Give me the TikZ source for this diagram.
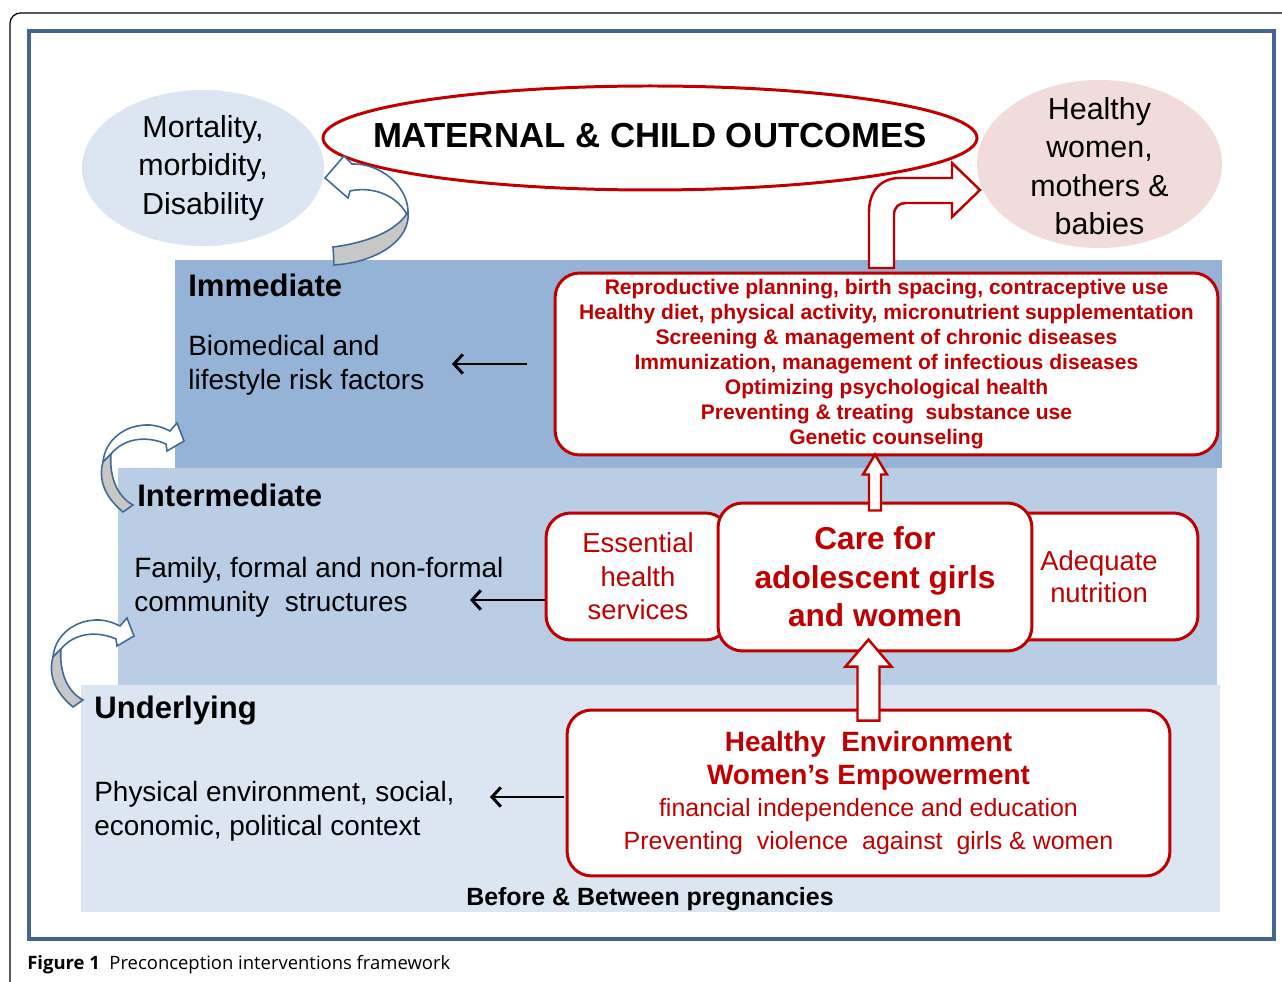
\documentclass[tikz,border=0pt]{standalone}
\usepackage{fontspec}
\setmainfont{Liberation Sans}
\newfontfamily\capfont{Open Sans}
\usetikzlibrary{arrows.meta}

\definecolor{deepred}{RGB}{192,0,0}
\definecolor{tierone}{RGB}{149,179,215}
\definecolor{tiertwo}{RGB}{185,205,229}
\definecolor{tierthree}{RGB}{220,230,242}
\definecolor{rosy}{RGB}{242,220,219}
\definecolor{frameblue}{RGB}{70,100,145}
\definecolor{twistblue}{RGB}{65,105,150}

\tikzset{
	redbox/.style = {draw=deepred, line width=1.7pt, fill=white,
		rounded corners=14pt, inner sep=0pt, text=deepred, align=center},
	blockarrow/.style = {draw=deepred, line width=1.4pt, fill=white},
	twist/.style = {draw=twistblue, line width=0.9pt, fill=white},
	twistback/.style = {draw=twistblue, line width=0.9pt, fill=black!22},
	backarrow/.style = {line width=1.7pt, -{Straight Barb[length=5pt,width=11pt]}},
	tier/.style = {anchor=west, inner sep=0pt,
		font=\fontsize{17.7}{20}\selectfont\bfseries},
	factor/.style = {anchor=west, inner sep=0pt, align=left,
		font=\fontsize{15.9}{19.3}\selectfont},
	outcome/.style = {inner sep=0pt, align=center,
		font=\fontsize{17.3}{21.8}\selectfont}
}

\begin{document}
\begin{tikzpicture}[x=0.02cm, y=-0.02cm]
\useasboundingbox (0,0) rectangle (1282,982);
\fill[white] (0,0) rectangle (1282,982);

% frames
\draw[line width=0.7pt, rounded corners=6pt] (10,995) -- (10,13) -- (1295,13);
\draw[frameblue, line width=2pt] (29,31) rectangle (1274,939);

% the three tiers
\fill[tierone] (175,260) rectangle (1222,468);
\fill[tiertwo] (118,468) rectangle (1217,685);
\fill[tierthree] (81,685) rectangle (1220,912);

% outcomes
\fill[tierthree] (203,168) ellipse [x radius=121, y radius=78];
\fill[rosy] (1099.5,164) ellipse [x radius=122.5, y radius=84];
\draw[deepred, line width=1.7pt, fill=white]
	(650,138) ellipse [x radius=327, y radius=52];

\node[outcome] (death) at (203,168) {Mortality,\\morbidity,\\Disability};
\node[outcome] (wellbeing) at (1099.5,166) {Healthy\\women,\\mothers \&\\babies};
\node[inner sep=0pt, font=\fontsize{19.8}{22}\selectfont\bfseries]
	(mcoutcomes) at (650,136) {MATERNAL \& CHILD OUTCOMES};

% twisted arrows
\draw[twist] (408,212) .. controls (408,186) and (380,163) .. (352,164) --
	(344,156) -- (325,178) -- (348,198) --
	(350,191) .. controls (372,186) and (396,195) .. (406,213) -- cycle;
\draw[twistback] (333,247) .. controls (365,243) and (396,232) .. (408,212)
	.. controls (411,238) and (380,262) .. (334,265) -- cycle;

\foreach \dx/\dy in {0/0, -50/195}{
	\begin{scope}[shift={(\dx,\dy)}]
	\draw[twist] (103,462) .. controls (105,440) and (125,424) .. (150,425)
		.. controls (160,426) and (166,429) .. (170,431) --
		(177,423) -- (184,441) -- (167,451) --
		(166,444) .. controls (148,436) and (125,437) .. (111,454) -- cycle;
	\draw[twistback] (123,512) .. controls (105,497) and (98,480) .. (103,462) --
		(111,454) .. controls (109,478) and (118,497) .. (133,505) -- cycle;
	\end{scope}
}

% intervention boxes
\node[redbox, minimum width=13.26cm, minimum height=3.64cm,
	font=\fontsize{12}{14.3}\selectfont\bfseries] (immbox) at (886.5,364)
	{Reproductive planning, birth spacing, contraceptive use\\
	Healthy diet, physical activity, micronutrient supplementation\\
	Screening \& management of chronic diseases\\
	Immunization, management of infectious diseases\\
	Optimizing psychological health\\
	Preventing \& treating\ \ substance use\\
	Genetic counseling};

\node[redbox, minimum width=3.68cm, minimum height=2.54cm,
	font=\fontsize{15.6}{19}\selectfont] (services) at (638,576.5)
	{Essential\\health\\services};
\node[redbox, minimum width=3.96cm, minimum height=2.54cm,
	font=\fontsize{15.6}{18.2}\selectfont] (nutrition) at (1099,576.5)
	{Adequate\\nutrition};
\node[redbox, minimum width=6.28cm, minimum height=2.96cm,
	font=\fontsize{18}{21.8}\selectfont\bfseries] (care) at (875,577)
	{Care for\\adolescent girls\\and women};

\node[redbox, minimum width=12.06cm, minimum height=3.32cm,
	font=\fontsize{14.2}{18.5}\selectfont] (envbox) at (868.5,793)
	{{\fontsize{15.9}{18.5}\selectfont\bfseries Healthy\ \ Environment}\\
	{\fontsize{15.9}{18.5}\selectfont\bfseries Women's Empowerment}\\
	financial independence and education\\
	Preventing\ \ violence\ \ against\ \ girls \& women};

% hollow arrows
\draw[blockarrow] (envbox.north) ++(-11,12) -- ++(0,-54) -- ++(-12,0) --
	++(23,-27) -- ++(23,27) -- ++(-12,0) -- ++(0,54) -- cycle;
\draw[blockarrow] (care.north) ++(-6,9) -- ++(0,-36) -- ++(-6,0) --
	++(12,-20) -- ++(12,20) -- ++(-6,0) -- ++(0,36) -- cycle;
\draw[blockarrow] (869,268) -- (869,212) .. controls (869,192) and (880,178) .. (900,178) --
	(952,178) -- (952,163) -- (980,190) -- (952,217) -- (952,203) --
	(906,203) .. controls (899,203) and (894,207) .. (894,215) -- (894,268) -- cycle;

% tier labels
\node[tier] (immediate) at (188,285) {Immediate};
\node[factor] (biomed) at (188,365) {Biomedical and\\lifestyle risk factors};
\node[tier] (intermediate) at (137,495) {Intermediate};
\node[factor] (family) at (134,587) {Family,\ formal\ and\ non-formal\\community\ \ structures};
\node[tier] (underlying) at (94,711) {Underlying};
\node[factor] (physical) at (94,811) {Physical environment,\ social,\\economic, political context};
\node[inner sep=0pt, font=\fontsize{14.2}{16}\selectfont\bfseries]
	(timing) at (650,899) {Before \& Between pregnancies};

% back arrows
\coordinate (tipA) at (452,364);
\coordinate (tipB) at (470,600);
\coordinate (tipC) at (490,797);
\draw[backarrow] (immbox.west |- tipA) ++(-27,0) -- (tipA);
\draw[backarrow] (services.west |- tipB) -- (tipB);
\draw[backarrow] (envbox.west |- tipC) ++(-2,0) -- (tipC);

% caption
\node[anchor=west, inner sep=0pt, font=\capfont\fontsize{10.5}{12}\selectfont]
	(caption) at (27,965) {\textbf{Figure 1}\ \ Preconception interventions framework};
\end{tikzpicture}
\end{document}
